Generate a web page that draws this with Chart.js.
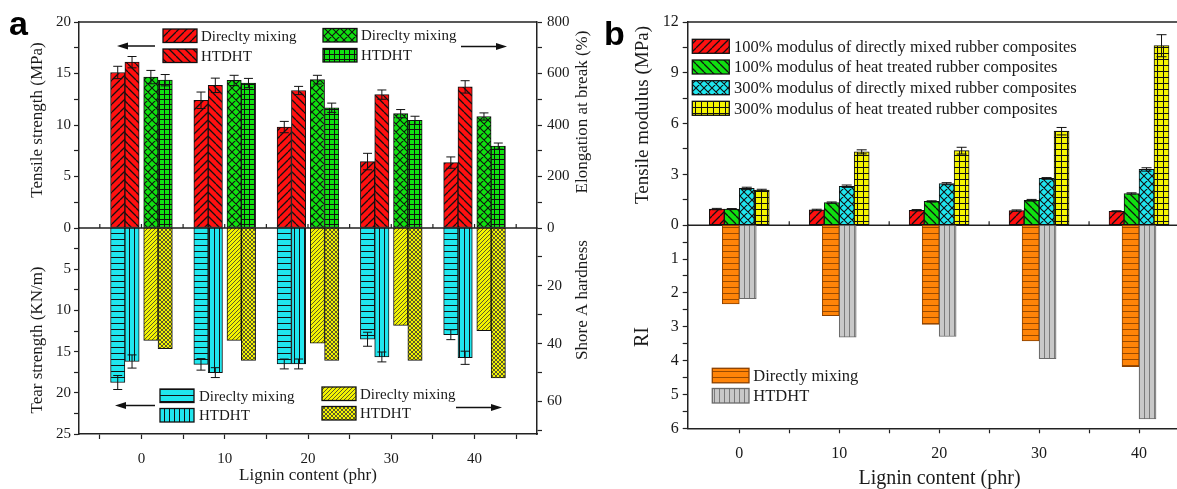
<!DOCTYPE html>
<html>
<head>
<meta charset="utf-8">
<title>Lignin content</title>
<script src="https://cdn.jsdelivr.net/npm/chart.js@4.4.1/dist/chart.umd.min.js"></script>
<style>
  html, body { margin: 0; padding: 0; background: #fff; }
  body { width: 1177px; height: 489px; overflow: hidden; position: relative; }
  canvas { position: absolute; top: 0; }
  #chartA { left: 0; }
  #chartB { left: 600px; }
</style>
</head>
<body>
<canvas id="chartA" width="600" height="489"></canvas>
<canvas id="chartB" width="600" height="489"></canvas>
<script>
const lignin = [0, 10, 20, 30, 40]

// panel a, top: tensile strength (MPa) and elongation at break (%)
const tensileDM = [15.1, 12.4, 9.8, 6.45, 6.35]
const tensileDMErr = [0.6, 0.8, 0.55, 0.8, 0.55]
const tensileHT = [16.1, 13.85, 13.35, 12.95, 13.7]
const tensileHTErr = [0.55, 0.7, 0.4, 0.45, 0.6]
const elongDM = [586, 573, 576, 444, 433]
const elongDMErr = [26, 20, 17, 16, 14]
const elongHT = [574, 563, 467, 418, 318]
const elongHTErr = [22, 18, 18, 16, 12]
// panel a, bottom: tear strength (KN/m) and Shore A hardness
const tearDM = [18.75, 16.55, 16.5, 13.5, 12.95]
const tearDMErr = [0.85, 0.7, 0.6, 0.85, 0.6]
const tearHT = [16.2, 17.55, 16.5, 15.65, 15.75]
const tearHTErr = [0.8, 0.6, 0.6, 0.6, 0.8]
const shoreDM = [38.9, 38.9, 39.9, 33.7, 35.5]
const shoreHT = [41.8, 45.8, 45.8, 45.8, 51.9]

// panel b, top: tensile modulus (MPa)
const mod100DM = [0.95, 0.9, 0.88, 0.86, 0.82]
const mod100DMErr = [0.04, 0.04, 0.04, 0.04, 0.03]
const mod100HT = [0.95, 1.33, 1.4, 1.47, 1.87]
const mod100HTErr = [0.03, 0.04, 0.04, 0.05, 0.04]
const mod300DM = [2.17, 2.3, 2.45, 2.76, 3.29]
const mod300DMErr = [0.07, 0.07, 0.06, 0.05, 0.1]
const mod300HT = [2.07, 4.33, 4.4, 5.55, 10.6]
const mod300HTErr = [0.05, 0.12, 0.2, 0.22, 0.65]
// panel b, bottom: RI
const riDM = [2.33, 2.67, 2.93, 3.42, 4.18]
const riHT = [2.17, 3.31, 3.29, 3.94, 5.72]

// ticks
const xTicksA = [-5, 0, 5, 10, 15, 20, 25, 30, 35, 40, 45]
const tensileTicks = [0, 2.5, 5, 7.5, 10, 12.5, 15, 17.5, 20]
const tearTicks = [2.5, 5, 7.5, 10, 12.5, 15, 17.5, 20, 22.5, 25]
const elongTicks = [0, 100, 200, 300, 400, 500, 600, 700, 800]
const shoreTicks = [10, 20, 30, 40, 50, 60, 70]
const xTicksB = [0, 5, 10, 15, 20, 25, 30, 35, 40, 45]
const modTicks = [0, 1.5, 3, 4.5, 6, 7.5, 9, 10.5, 12]
const riTicks = [0.5, 1, 1.5, 2, 2.5, 3, 3.5, 4, 4.5, 5, 5.5, 6]

const serif = '"Liberation Serif", "Times New Roman", serif'
Chart.defaults.font.family = serif
Chart.defaults.color = '#1a1a1a'
Chart.defaults.animation = false

function hatch(ctx, bg, kind, size, line, lw){
    const c = document.createElement('canvas')
    c.width = size; c.height = size
    const g = c.getContext('2d')
    g.fillStyle = bg
    g.fillRect(0, 0, size, size)
    g.strokeStyle = line || '#111'
    g.lineWidth = lw || 1
    g.beginPath()
    if(kind.includes('/')){
        for(let k = -1; k <= 1; k++){ g.moveTo(k*size, size); g.lineTo(k*size + size, 0) }
    }
    if(kind.includes('\\')){
        for(let k = -1; k <= 1; k++){ g.moveTo(k*size, 0); g.lineTo(k*size + size, size) }
    }
    if(kind.includes('-')){ g.moveTo(0, size - 0.5); g.lineTo(size, size - 0.5) }
    if(kind.includes('|')){ g.moveTo(size - 0.5, 0); g.lineTo(size - 0.5, size) }
    g.stroke()
    return ctx.createPattern(c, 'repeat')
}

function isMajor(v, every){
    const q = v/every
    return Math.abs(q - Math.round(q)) < 1e-6
}

function yAxis(pos, stack, min, max, reverse, tickVals, every, width, size, pad){
    return {
        type: 'linear', position: pos, stack: stack, stackWeight: 1,
        min: min, max: max, reverse: reverse, offset: false,
        afterBuildTicks: s => { s.ticks = tickVals.map(v => ({value: v})) },
        afterFit: s => { s.width = width },
        ticks: {autoSkip: false, padding: pad, font: {size: size}, color: '#1a1a1a',
            callback: v => isMajor(v, every) ? String(v) : ''},
        grid: {drawOnChartArea: false, tickLength: 5, tickColor: '#222', tickWidth: 1.2},
        border: {color: '#222', width: 1.5}
    }
}

function xAxis(min, max, tickVals, height, size, pad){
    return {
        type: 'linear', min: min, max: max, offset: false,
        afterBuildTicks: s => { s.ticks = tickVals.map(v => ({value: v})) },
        afterFit: s => { s.height = height },
        ticks: {autoSkip: false, maxRotation: 0, padding: pad, font: {size: size}, color: '#1a1a1a',
            callback: v => isMajor(v, 10) ? String(v) : ''},
        grid: {drawOnChartArea: false, offset: false, tickLength: 5, tickColor: '#222', tickWidth: 1.2},
        border: {color: '#222', width: 1.5}
    }
}

function bars(label, values, errs, offset, axis, fill, width, border){
    return {
        label: label,
        yAxisID: axis,
        grouped: false,
        barThickness: width,
        data: values.map((v, i) => ({x: lignin[i] + offset, y: v})),
        errors: errs,
        backgroundColor: fill,
        borderColor: border || '#111',
        borderWidth: 1,
        borderSkipped: false
    }
}

const errorBars = {
    id: 'errorBars',
    afterDatasetsDraw(chart){
        const ctx = chart.ctx
        const cap = chart.$cap || 5
        ctx.save()
        ctx.strokeStyle = '#111'
        ctx.lineWidth = 1
        chart.data.datasets.forEach((ds, di) => {
            if(!ds.errors) return
            const scale = chart.scales[ds.yAxisID]
            chart.getDatasetMeta(di).data.forEach((bar, i) => {
                const v = ds.data[i].y, e = ds.errors[i]
                const y1 = scale.getPixelForValue(v - e)
                const y2 = scale.getPixelForValue(v + e)
                ctx.beginPath()
                ctx.moveTo(bar.x, y1); ctx.lineTo(bar.x, y2)
                ctx.moveTo(bar.x - cap, y1); ctx.lineTo(bar.x + cap, y1)
                ctx.moveTo(bar.x - cap, y2); ctx.lineTo(bar.x + cap, y2)
                ctx.stroke()
            })
        })
        ctx.restore()
    }
}

function drawArrow(ctx, x1, y, x2){
    const dir = Math.sign(x2 - x1)
    ctx.beginPath()
    ctx.moveTo(x1, y); ctx.lineTo(x2 - dir*8, y)
    ctx.stroke()
    ctx.beginPath()
    ctx.moveTo(x2, y); ctx.lineTo(x2 - dir*11, y - 3.5); ctx.lineTo(x2 - dir*11, y + 3.5)
    ctx.closePath()
    ctx.fill()
}

function makeFrame(cfg){
    return {
        id: 'frame',
        beforeDatasetsDraw(chart){
            const ctx = chart.ctx, a = chart.chartArea
            const y0 = chart.scales[cfg.zeroAxis].getPixelForValue(0)
            const xs = chart.scales.x
            ctx.save()
            ctx.strokeStyle = '#222'
            ctx.lineWidth = 1.5
            ctx.beginPath()
            ctx.moveTo(a.left, y0); ctx.lineTo(a.right, y0)
            ctx.moveTo(a.left, a.top); ctx.lineTo(a.right, a.top)
            ctx.stroke()
            ctx.lineWidth = 1.2
            ctx.beginPath()
            xs.ticks.forEach(t => {
                const x = xs.getPixelForValue(t.value)
                ctx.moveTo(x, y0); ctx.lineTo(x, y0 - 4)
            })
            ctx.stroke()
            ctx.restore()
        },
        afterDraw(chart){
            const ctx = chart.ctx
            ctx.save()
            // legends
            cfg.legends.forEach(l => {
                const ds = chart.data.datasets[l.ds]
                ctx.fillStyle = ds.backgroundColor
                ctx.fillRect(l.x, l.y, l.w, l.h)
                ctx.strokeStyle = ds.borderColor
                ctx.lineWidth = 1.3
                ctx.strokeRect(l.x, l.y, l.w, l.h)
                ctx.fillStyle = '#1a1a1a'
                ctx.font = cfg.legendFont
                ctx.textAlign = 'left'
                ctx.textBaseline = 'middle'
                ctx.fillText(ds.label, l.tx, l.y + l.h/2 + 1)
            })
            // arrows
            ctx.strokeStyle = '#111'
            ctx.fillStyle = '#111'
            ctx.lineWidth = 1.5
            cfg.arrows.forEach(ar => drawArrow(ctx, ar[0], ar[1], ar[2]))
            // axis titles
            ctx.fillStyle = '#1a1a1a'
            cfg.titles.forEach(t => {
                ctx.save()
                ctx.translate(t.x, t.y)
                if(t.rot) ctx.rotate(-Math.PI/2)
                ctx.font = t.font
                ctx.textAlign = 'center'
                ctx.textBaseline = 'middle'
                ctx.fillText(t.text, 0, 0)
                ctx.restore()
            })
            // panel letter
            ctx.fillStyle = '#000'
            ctx.font = 'bold 34px "Liberation Sans", Arial, sans-serif'
            ctx.textAlign = 'left'
            ctx.textBaseline = 'alphabetic'
            ctx.fillText(cfg.letter.text, cfg.letter.x, cfg.letter.y)
            ctx.restore()
        }
    }
}

// ---------- panel a ----------
const ctxA = document.getElementById('chartA').getContext('2d')
const red = '#ff1010', green = '#10e010', cyan = '#20e6ee', yellow = '#f4f400'
const datasetsA = [
    bars('Direclty mixing', tensileDM, tensileDMErr, -2.85, 'yTensile', hatch(ctxA, red, '/', 8, '#111', 1.3), 14.3),
    bars('HTDHT', tensileHT, tensileHTErr, -1.13, 'yTensile', hatch(ctxA, red, '\\', 8, '#111', 1.3), 14.3),
    bars('Direclty mixing', elongDM, elongDMErr, 1.13, 'yElong', hatch(ctxA, green, '/\\', 8, '#111', 1.1), 14.3),
    bars('HTDHT', elongHT, elongHTErr, 2.85, 'yElong', hatch(ctxA, green, '-|', 5, '#111', 1), 14.3),
    bars('Direclty mixing', tearDM, tearDMErr, -2.85, 'yTear', hatch(ctxA, cyan, '-', 6, '#111', 1), 14.3),
    bars('HTDHT', tearHT, tearHTErr, -1.13, 'yTear', hatch(ctxA, cyan, '|', 5, '#111', 1), 14.3),
    bars('Direclty mixing', shoreDM, null, 1.13, 'yShore', hatch(ctxA, yellow, '/', 4, '#333', 0.8), 14.3),
    bars('HTDHT', shoreHT, null, 2.85, 'yShore', hatch(ctxA, yellow, '/\\', 4, '#333', 0.8), 14.3)
]

const frameA = makeFrame({
    zeroAxis: 'yTensile',
    letter: {text: 'a', x: 9, y: 35},
    legendFont: '15px ' + serif,
    legends: [
        {ds: 0, x: 163, y: 29, w: 34, h: 13.5, tx: 201},
        {ds: 1, x: 163, y: 49, w: 34, h: 13.5, tx: 201},
        {ds: 2, x: 323, y: 28.5, w: 34, h: 13.5, tx: 361},
        {ds: 3, x: 323, y: 48.5, w: 34, h: 13.5, tx: 361},
        {ds: 4, x: 160, y: 389, w: 34, h: 13.5, tx: 199},
        {ds: 5, x: 160, y: 408.5, w: 34, h: 13.5, tx: 199},
        {ds: 6, x: 322, y: 387, w: 34, h: 13.5, tx: 360},
        {ds: 7, x: 322, y: 406.5, w: 34, h: 13.5, tx: 360}
    ],
    arrows: [[155, 46, 117], [461, 46.5, 507], [155, 405.5, 115], [456, 407.5, 502]],
    titles: [
        {text: 'Tensile strength (MPa)', x: 38, y: 120, rot: true, font: '17px ' + serif},
        {text: 'Tear strength (KN/m)', x: 38, y: 340, rot: true, font: '17px ' + serif},
        {text: 'Elongation at break (%)', x: 583, y: 112, rot: true, font: '17px ' + serif},
        {text: 'Shore A hardness', x: 583, y: 300, rot: true, font: '17px ' + serif},
        {text: 'Lignin content (phr)', x: 308, y: 476, rot: false, font: '17px ' + serif}
    ]
})

const chartA = new Chart(ctxA, {
    type: 'bar',
    data: {datasets: datasetsA},
    options: {
        responsive: false,
        events: [],
        layout: {padding: {top: 22, left: 0, right: 0, bottom: 0}},
        plugins: {legend: {display: false}, tooltip: {enabled: false}},
        scales: {
            x: xAxis(-7.5, 47.5, xTicksA, 55, 15, 11),
            yTear: yAxis('left', 'L', 0, 25, true, tearTicks, 5, 79, 15, 3),
            yTensile: yAxis('left', 'L', 0, 20, false, tensileTicks, 5, 79, 15, 3),
            yElong: yAxis('right', 'R', 0, 800, false, elongTicks, 200, 63, 15, 5),
            yShore: yAxis('right', 'R', 0, 71.3, true, shoreTicks, 20, 63, 15, 5)
        }
    },
    plugins: [frameA, errorBars]
})
chartA.$cap = 4.5

// ---------- panel b ----------
const ctxB = document.getElementById('chartB').getContext('2d')
const datasetsB = [
    bars('100% modulus of directly mixed rubber composites', mod100DM, mod100DMErr, -2.25, 'yMod', hatch(ctxB, red, '/', 8, '#111', 1.3), 15),
    bars('100% modulus of heat treated rubber composites', mod100HT, mod100HTErr, -0.75, 'yMod', hatch(ctxB, green, '\\', 8, '#111', 1.3), 15),
    bars('300% modulus of directly mixed rubber composites', mod300DM, mod300DMErr, 0.75, 'yMod', hatch(ctxB, cyan, '/\\', 8, '#111', 1.1), 15),
    bars('300% modulus of heat treated rubber composites', mod300HT, mod300HTErr, 2.25, 'yMod', hatch(ctxB, yellow, '-|', 6, '#111', 1), 15),
    bars('Directly mixing', riDM, null, -0.85, 'yRI', hatch(ctxB, '#ff8408', '-', 6, '#9a4a00', 1), 17, '#8a4000'),
    bars('HTDHT', riHT, null, 0.85, 'yRI', hatch(ctxB, '#c8c8c8', '|', 5, '#7a7a7a', 1), 17, '#6a6a6a')
]

const frameB = makeFrame({
    zeroAxis: 'yMod',
    letter: {text: 'b', x: 4, y: 45},
    legendFont: '16.5px ' + serif,
    legends: [
        {ds: 0, x: 92.3, y: 39.3, w: 37, h: 14, tx: 134},
        {ds: 1, x: 92.3, y: 60, w: 37, h: 14, tx: 134},
        {ds: 2, x: 92.3, y: 80.7, w: 37, h: 14, tx: 134},
        {ds: 3, x: 92.3, y: 101.3, w: 37, h: 14, tx: 134},
        {ds: 4, x: 112.3, y: 368.3, w: 36.7, h: 14.5, tx: 153.3},
        {ds: 5, x: 112.3, y: 388.5, w: 36.7, h: 14.5, tx: 153.3}
    ],
    arrows: [],
    titles: [
        {text: 'Tensile modulus (MPa)', x: 43, y: 115, rot: true, font: '19px ' + serif},
        {text: 'RI', x: 43, y: 337, rot: true, font: '20px ' + serif},
        {text: 'Lignin content (phr)', x: 339.5, y: 479, rot: false, font: '20px ' + serif}
    ]
})

const chartB = new Chart(ctxB, {
    type: 'bar',
    data: {datasets: datasetsB},
    options: {
        responsive: false,
        events: [],
        layout: {padding: {top: 22, left: 0, right: 10.7, bottom: 0}},
        plugins: {legend: {display: false}, tooltip: {enabled: false}},
        scales: {
            x: xAxis(-5.16, 45, xTicksB, 60.7, 16, 11),
            yRI: yAxis('left', 'L', 0, 6, true, riTicks, 1, 87.7, 16, 4),
            yMod: yAxis('left', 'L', 0, 12, false, modTicks, 3, 87.7, 16, 4)
        }
    },
    plugins: [frameB, errorBars]
})
chartB.$cap = 5
chartA.draw()
chartB.draw()
</script>
</body>
</html>
